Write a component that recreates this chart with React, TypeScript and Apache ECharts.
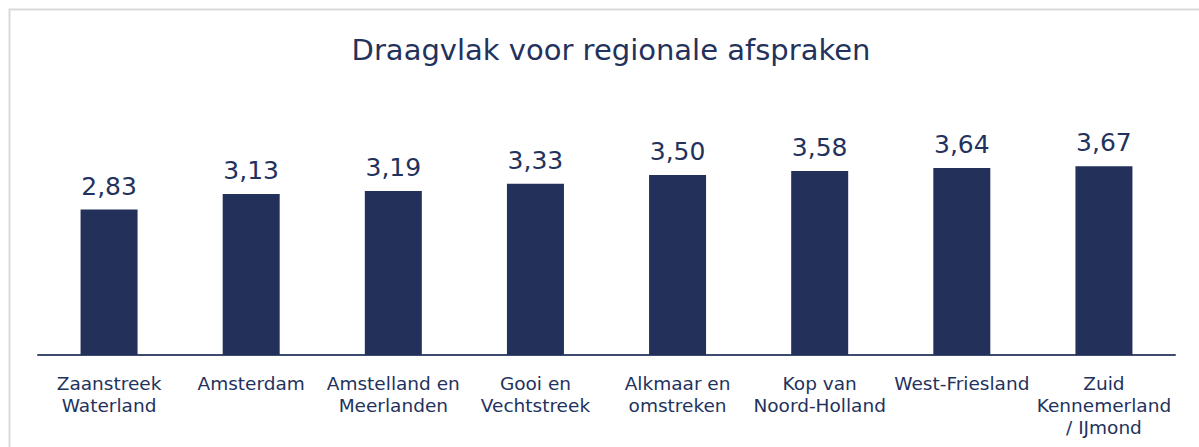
import React, { useEffect, useRef } from "react";
import * as echarts from "echarts";

const categories = [
  "Zaanstreek\nWaterland",
  "Amsterdam",
  "Amstelland en\nMeerlanden",
  "Gooi en\nVechtstreek",
  "Alkmaar en\nomstreken",
  "Kop van\nNoord-Holland",
  "West-Friesland",
  "Zuid\nKennemerland\n/ IJmond",
];
const values = [2.83, 3.13, 3.19, 3.33, 3.5, 3.58, 3.64, 3.67];
const titleText = "Draagvlak voor regionale afspraken";

const NAVY = "#22305a";
const TEXT = "#23325c";
const FONT = "'DejaVu Sans', Verdana, sans-serif";

export default function App() {
  const ref = useRef<HTMLDivElement>(null);
  useEffect(() => {
    document.body.style.margin = "0";
    const chart = echarts.init(ref.current!, null, { renderer: "svg" });
    chart.setOption({
      animation: false,
      backgroundColor: "#ffffff",
      title: {
        text: titleText,
        left: 606,
        textAlign: "center",
        top: 30,
        textStyle: { fontFamily: FONT, fontSize: 29, fontWeight: "normal", color: TEXT },
      },
      graphic: [
        {
          type: "rect",
          shape: { x: 9.5, y: 9.5, width: 1220, height: 460 },
          style: { fill: "none", stroke: "#d9d9d9", lineWidth: 2 },
          silent: true,
        },
      ],
      grid: { left: 38, right: 24, top: 98, bottom: 92, containLabel: false },
      xAxis: {
        type: "category",
        data: categories,
        axisLine: { show: true, lineStyle: { color: "#3e4b6e", width: 2 } },
        axisTick: { show: false },
        axisLabel: {
          interval: 0,
          margin: 17,
          fontFamily: FONT,
          fontSize: 18.5,
          lineHeight: 22,
          color: TEXT,
        },
      },
      yAxis: {
        type: "value",
        min: 0,
        max: 5,
        show: false,
        splitLine: { show: false },
      },
      series: [
        {
          type: "bar",
          data: values,
          barWidth: 57,
          itemStyle: { color: NAVY },
          label: {
            show: true,
            position: "top",
            distance: 11,
            fontFamily: FONT,
            fontSize: 25,
            color: TEXT,
            formatter: (p: any) => p.value.toFixed(2).replace(".", ","),
          },
        },
      ],
    });
    return () => chart.dispose();
  }, []);
  return <div ref={ref} style={{ width: 1199, height: 447 }} />;
}
